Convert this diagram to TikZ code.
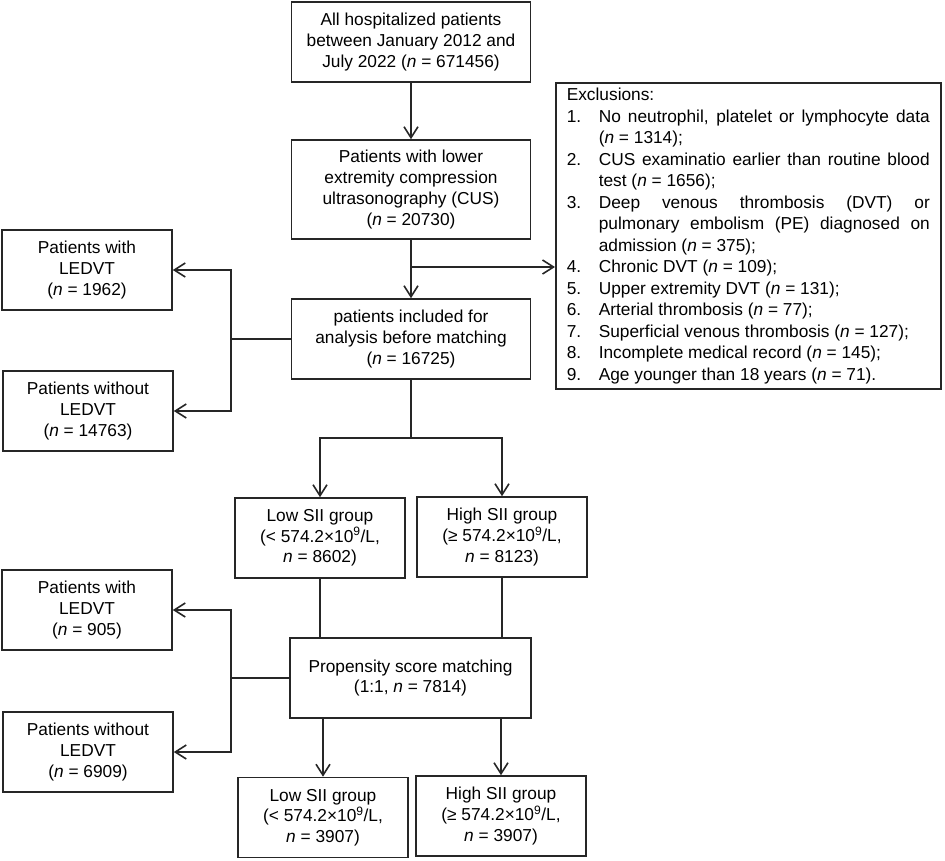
\documentclass[tikz,border=0pt]{standalone}
\usepackage{fontspec}
\setmainfont{Liberation Sans}
\usetikzlibrary{arrows.meta}
\newcommand{\boxfont}{\fontsize{17.3}{20.7}\selectfont}
\newcommand{\exfont}{\fontsize{17.3}{21.5}\selectfont}
\newcommand{\exitem}[2]{\par\noindent\hangindent=32pt\hangafter=1\makebox[32pt][l]{#1}#2}
\begin{document}
\begin{tikzpicture}[x=1pt,y=-1pt,
  line/.style={draw=black!85, line width=1.6pt},
  box/.style={line, align=center, inner sep=0pt, font=\boxfont, text=black},
  wbox/.style={box, minimum width=239pt, minimum height=80pt},
  sbox/.style={box, minimum width=170pt, minimum height=80pt},
  arr/.style={line, -{Straight Barb[length=11pt,width=14pt]}},
]
\useasboundingbox[fill=white] (0,0) rectangle (945,860);

% main column
\node[wbox] (top) at (411,42) {All hospitalized patients\\between January 2012 and\\July 2022 (\textit{n} = 671456)};
\node[wbox, minimum height=99pt] (cus) at (411,189.5) {Patients with lower\\extremity compression\\ultrasonography (CUS)\\(\textit{n} = 20730)};
\node[wbox] (inc) at (411,339) {patients included for\\analysis before matching\\(\textit{n} = 16725)};

% exclusions
\node[line, anchor=north west, minimum width=385pt, minimum height=306pt,
      text width=363pt, inner xsep=11pt, inner ysep=0pt, align=justify,
      font=\exfont, text=black] (excl) at (555,82) {%
Exclusions:
\exitem{1.}{No neutrophil, platelet or lymphocyte data\linebreak (\textit{n} = 1314);}
\exitem{2.}{CUS examinatio earlier than routine blood\linebreak test (\textit{n} = 1656);}
\exitem{3.}{Deep venous thrombosis (DVT) or\linebreak pulmonary embolism (PE) diagnosed on\linebreak admission (\textit{n} = 375);}
\exitem{4.}{Chronic DVT (\textit{n} = 109);}
\exitem{5.}{Upper extremity DVT (\textit{n} = 131);}
\exitem{6.}{Arterial thrombosis (\textit{n} = 77);}
\exitem{7.}{Superficial venous thrombosis (\textit{n} = 127);}
\exitem{8.}{Incomplete medical record (\textit{n} = 145);}
\exitem{9.}{Age younger than 18 years (\textit{n} = 71).}\par};

% left group 1
\node[sbox] (with1) at (87,270) {Patients with\\LEDVT\\(\textit{n} = 1962)};
\node[sbox] (without1) at (88,411) {Patients without\\LEDVT\\(\textit{n} = 14763)};

% SII groups before matching
\node[sbox] (lowA) at (320,538) {Low SII group\\(< 574.2×10\textsuperscript{9}/L,\\\textit{n} = 8602)};
\node[sbox] (highA) at (502,537) {High SII group\\(≥ 574.2×10\textsuperscript{9}/L,\\\textit{n} = 8123)};

% PSM
\node[box, minimum width=241pt, minimum height=80pt] (psm) at (410.5,678) {Propensity score matching\\(1:1, \textit{n} = 7814)};

% left group 2
\node[sbox] (with2) at (87,610) {Patients with\\LEDVT\\(\textit{n} = 905)};
\node[sbox] (without2) at (88,752) {Patients without\\LEDVT\\(\textit{n} = 6909)};

% SII groups after matching
\node[sbox] (lowB) at (323,817.5) {Low SII group\\(< 574.2×10\textsuperscript{9}/L,\\\textit{n} = 3907)};
\node[sbox] (highB) at (501,816) {High SII group\\(≥ 574.2×10\textsuperscript{9}/L,\\\textit{n} = 3907)};

% coordinates
\coordinate (b1) at (411,267);
\coordinate (j1) at (231,339);
\coordinate (s1) at (411,438);
\coordinate (j2) at (231,678);

% connectors
\draw[arr] (top) -- (cus);
\draw[arr] (cus) -- (inc);
\draw[arr] (b1) -- (b1 -| excl.west);
\draw[line] (inc.west) -- (j1);
\draw[arr] (j1) |- (with1.east);
\draw[arr] (j1) |- (without1.east);
\draw[line] (inc.south) -- (s1);
\draw[arr] (s1) -| (lowA.north);
\draw[arr] (s1) -| (highA.north);
\draw[line] (lowA.south) -- (lowA.south |- psm.north);
\draw[line] (highA.south) -- (highA.south |- psm.north);
\draw[line] (psm.west) -- (j2);
\draw[arr] (j2) |- (with2.east);
\draw[arr] (j2) |- (without2.east);
\draw[arr] (psm.south -| lowB.north) -- (lowB.north);
\draw[arr] (psm.south -| highB.north) -- (highB.north);
\end{tikzpicture}
\end{document}
